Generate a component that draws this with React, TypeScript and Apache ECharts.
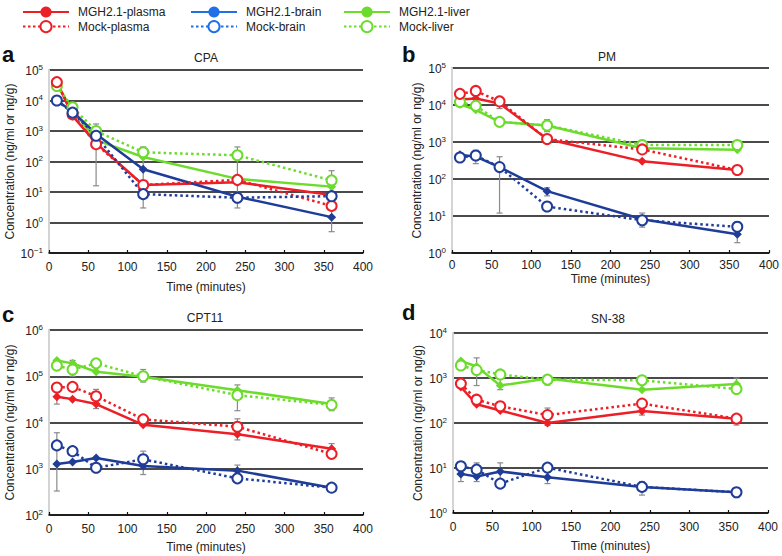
import React, { useEffect, useRef } from "react";
import * as echarts from "echarts";

const times = [10, 30, 60, 120, 240, 360];

// Panel a: CPA
const cpaPlasmaMGH = [42000, 3100, 400, 17, 21, 8];
const cpaPlasmaMock = [40000, 3500, 370, 17, 25, 3.5];
const cpaBrainMGH = [10000, 4300, 800, 56, 7, 1.5];
const cpaBrainMock = [10000, 4000, 700, 8.5, 6.5, 7.3];
const cpaLiverMGH = [32000, 4900, 500, 140, 27, 15];
const cpaLiverMock = [30000, 6000, 1000, 200, 160, 24];
const cpaErrors = [[30, 3000, 7000], [60, 16, 1700], [120, 3, 300], [240, 3, 300], [360, 0.5, 50]];

// Panel b: PM
const pmPlasmaMGH = [14000, 15000, 11000, 1200, 300, 175];
const pmPlasmaMock = [20000, 24000, 12500, 1200, 630, 175];
const pmBrainMGH = [450, 400, 210, 47, 8.2, 3.2];
const pmBrainMock = [380, 430, 210, 18, 7.7, 5.1];
const pmLiverMGH = [10500, 7400, 3500, 2800, 680, 620];
const pmLiverMock = [12000, 9500, 3500, 2800, 830, 830];
const pmErrors = [[60, 12, 400], [60, 8000, 17000], [120, 1900, 4000], [30, 260, 600], [120, 35, 58], [240, 5, 12], [240, 500, 1100], [360, 1.9, 7]];

// Panel c: CPT11
const cptPlasmaMGH = [36000, 32000, 25000, 8900, 5600, 2700];
const cptPlasmaMock = [57000, 59000, 37000, 11700, 8100, 2100];
const cptBrainMGH = [1260, 1400, 1700, 1150, 910, 390];
const cptBrainMock = [3200, 2400, 1050, 1600, 620, 390];
const cptLiverMGH = [220000, 190000, 125000, 98000, 50000, 25000];
const cptLiverMock = [170000, 140000, 190000, 100000, 39000, 24000];
const cptErrors = [[10, 330, 6000], [10, 25000, 45000], [30, 100000, 220000], [60, 20000, 52000], [120, 750, 2400], [120, 75000, 140000], [240, 18000, 65000], [240, 4200, 12000], [240, 700, 1200], [360, 18000, 34000], [360, 2200, 3500]];

// Panel d: SN-38
const snPlasmaMGH = [630, 260, 190, 100, 185, 125];
const snPlasmaMock = [750, 330, 235, 150, 270, 125];
const snBrainMGH = [7.4, 6.5, 8.4, 6.2, 3.8, 2.9];
const snBrainMock = [10.9, 9.2, 4.5, 10.2, 3.8, 2.9];
const snLiverMGH = [2400, 1800, 680, 970, 550, 740];
const snLiverMock = [1900, 1500, 1200, 920, 890, 570];
const snErrors = [[10, 5, 12], [30, 680, 2800], [30, 5, 13], [60, 4, 13], [60, 550, 1000], [120, 88, 215], [120, 4.5, 8], [120, 700, 1100], [240, 2.5, 5], [240, 150, 230], [360, 470, 1000], [360, 90, 150], [360, 2.2, 3.5]];

const xTicks = [0, 50, 100, 150, 200, 250, 300, 350, 400];
const legendNames = ["MGH2.1-plasma", "Mock-plasma", "MGH2.1-brain", "Mock-brain", "MGH2.1-liver", "Mock-liver"];

const FONT = "'Liberation Sans', Arial, Helvetica, sans-serif";
const RED = "#ec1f27";
const GREEN = "#6cdc2c";
const BLUE_LEG = "#1f6fe8";
const BLUE = "#1f3d98";

const panels = [
  { letter: "a", title: "CPA", grid: { left: 49, top: 70, width: 314, height: 183 }, min: 0.1, max: 1e5, decades: 6, yGap: 33, xGap: 28, lblMargin: 8, lx: 2, ly: 55, tx: 206, ty: 58,
    plasma: [cpaPlasmaMGH, cpaPlasmaMock], brain: [cpaBrainMGH, cpaBrainMock], liver: [cpaLiverMGH, cpaLiverMock], errors: cpaErrors },
  { letter: "b", title: "PM", grid: { left: 452, top: 68, width: 317, height: 185 }, min: 1, max: 1e5, decades: 5, yGap: 29, xGap: 20, lblMargin: 6, lx: 402, ly: 55, tx: 607, ty: 57,
    plasma: [pmPlasmaMGH, pmPlasmaMock], brain: [pmBrainMGH, pmBrainMock], liver: [pmLiverMGH, pmLiverMock], errors: pmErrors },
  { letter: "c", title: "CPT11", grid: { left: 49, top: 330, width: 314, height: 185 }, min: 100, max: 1e6, decades: 4, yGap: 33, xGap: 26, lblMargin: 8, lx: 2, ly: 315, tx: 205, ty: 318,
    plasma: [cptPlasmaMGH, cptPlasmaMock], brain: [cptBrainMGH, cptBrainMock], liver: [cptLiverMGH, cptLiverMock], errors: cptErrors },
  { letter: "d", title: "SN-38", grid: { left: 453, top: 333, width: 315, height: 180 }, min: 1, max: 1e4, decades: 4, yGap: 29, xGap: 27, lblMargin: 8, lx: 402, ly: 313, tx: 608, ty: 319,
    plasma: [snPlasmaMGH, snPlasmaMock], brain: [snBrainMGH, snBrainMock], liver: [snLiverMGH, snLiverMock], errors: snErrors },
];

function supLabel(v: number) {
  const e = Math.round(Math.log10(v));
  const s = e < 0 ? "\u2212" + Math.abs(e) : String(e);
  return "{b|10}{s|" + s + "}";
}

function lineSeries(name: string, values: number[], color: string, mock: boolean, idx: number) {
  return {
    type: "line",
    name,
    xAxisIndex: idx,
    yAxisIndex: idx,
    data: times.map((t, i) => [t, values[i]]),
    symbol: mock ? "emptyCircle" : "diamond",
    symbolSize: mock ? 10 : 9,
    showSymbol: true,
    lineStyle: { color, width: 2.5, type: mock ? [2.5, 3] : "solid" },
    itemStyle: { color, borderWidth: mock ? 2.4 : 0, borderColor: color },
    z: mock ? 4 : 3,
  };
}

export default function App() {
  const ref = useRef<HTMLDivElement>(null);
  useEffect(() => {
    if (!ref.current) return;
    const chart = echarts.init(ref.current, undefined, { renderer: "svg" });

    const grids: any[] = [];
    const xAxes: any[] = [];
    const yAxes: any[] = [];
    const series: any[] = [];
    const graphics: any[] = [];

    // legend-only series (first with each name -> legend icon style)
    const legendColors = [RED, RED, BLUE_LEG, BLUE_LEG, GREEN, GREEN];
    legendNames.forEach((n, i) => {
      const mock = i % 2 === 1;
      series.push({
        type: "line",
        name: n,
        xAxisIndex: 0,
        yAxisIndex: 0,
        data: [],
        symbol: mock ? "emptyCircle" : "circle",
        symbolSize: 10,
        lineStyle: { color: legendColors[i], width: 2.5, type: mock ? [2.5, 2.5] : "solid" },
        itemStyle: { color: legendColors[i], borderWidth: mock ? 2.5 : 0, borderColor: legendColors[i] },
      });
    });

    panels.forEach((p, idx) => {
      grids.push({ ...p.grid, containLabel: false });
      xAxes.push({
        gridIndex: idx,
        type: "value",
        min: 0,
        max: 400,
        interval: 50,
        name: "Time (minutes)",
        nameLocation: "middle",
        nameGap: p.xGap,
        nameTextStyle: { fontFamily: FONT, fontSize: 12, color: "#222" },
        axisLine: { show: true, lineStyle: { color: "#111", width: 1.5 } },
        axisTick: { show: true, inside: true, length: 3, lineStyle: { color: "#111", width: 1.2 } },
        axisLabel: { fontFamily: FONT, fontSize: 12, color: "#222", margin: p.lblMargin,
          formatter: (v: number) => (xTicks.indexOf(v) >= 0 ? String(v) : "") },
        splitLine: { show: false },
      });
      yAxes.push({
        gridIndex: idx,
        type: "log",
        logBase: 10,
        min: p.min,
        max: p.max,
        splitNumber: p.decades,
        name: "Concentration (ng/ml or ng/g)",
        nameLocation: "middle",
        nameGap: p.yGap,
        nameTextStyle: { fontFamily: FONT, fontSize: 12, color: "#222" },
        axisLine: { show: true, lineStyle: { color: "#d4d4d4", width: 2 } },
        axisTick: { show: false },
        splitLine: { show: true, lineStyle: { color: "#4a4a4a", width: 2 } },
        axisLabel: {
          margin: 6,
          formatter: supLabel,
          rich: {
            b: { fontFamily: FONT, fontSize: 12, color: "#222", verticalAlign: "bottom", lineHeight: 14 },
            s: { fontFamily: FONT, fontSize: 8, color: "#222", verticalAlign: "top", lineHeight: 14, padding: [0, 0, 8, 0] },
          },
        },
      });

      series.push({
        type: "custom",
        name: "err-" + p.letter,
        xAxisIndex: idx,
        yAxisIndex: idx,
        data: p.errors,
        encode: { x: 0, y: [1, 2] },
        z: 1,
        silent: true,
        renderItem: (params: any, api: any) => {
          const t = api.value(0);
          const lo = api.coord([t, api.value(1)]);
          const hi = api.coord([t, api.value(2)]);
          const st = { stroke: "#8a8a8a", lineWidth: 1.2 };
          return {
            type: "group",
            children: [
              { type: "line", shape: { x1: lo[0], y1: lo[1], x2: hi[0], y2: hi[1] }, style: st },
              { type: "line", shape: { x1: lo[0] - 3, y1: lo[1], x2: lo[0] + 3, y2: lo[1] }, style: st },
              { type: "line", shape: { x1: hi[0] - 3, y1: hi[1], x2: hi[0] + 3, y2: hi[1] }, style: st },
            ],
          };
        },
      });

      series.push(lineSeries("MGH2.1-liver", p.liver[0], GREEN, false, idx));
      series.push(lineSeries("Mock-liver", p.liver[1], GREEN, true, idx));
      series.push(lineSeries("MGH2.1-plasma", p.plasma[0], RED, false, idx));
      series.push(lineSeries("Mock-plasma", p.plasma[1], RED, true, idx));
      series.push(lineSeries("MGH2.1-brain", p.brain[0], BLUE, false, idx));
      series.push(lineSeries("Mock-brain", p.brain[1], BLUE, true, idx));

      graphics.push({
        type: "text", left: p.lx, top: p.ly - 12,
        style: { text: p.letter, font: "bold 22px " + FONT, fill: "#111" },
      });
      graphics.push({
        type: "text", x: p.tx, y: p.ty,
        style: { text: p.title, font: "12px " + FONT, fill: "#222", align: "center", verticalAlign: "middle", textAlign: "center", textVerticalAlign: "middle" },
      });
    });

    const legendBase = {
      orient: "vertical",
      top: 1,
      itemGap: 2,
      itemWidth: 46,
      itemHeight: 14,
      selectedMode: false,
      textStyle: { fontFamily: FONT, fontSize: 12, color: "#222", padding: [0, 0, 0, 4] },
    };

    chart.setOption({
      animation: false,
      backgroundColor: "#fff",
      grid: grids,
      xAxis: xAxes,
      yAxis: yAxes,
      legend: [
        { ...legendBase, left: 17, data: ["MGH2.1-plasma", "Mock-plasma"] },
        { ...legendBase, left: 185, data: ["MGH2.1-brain", "Mock-brain"] },
        { ...legendBase, left: 338, data: ["MGH2.1-liver", "Mock-liver"] },
      ],
      series,
      graphic: graphics,
    });
    return () => chart.dispose();
  }, []);
  return <div ref={ref} style={{ position: "fixed", left: 0, top: 0, width: 782, height: 556, background: "#fff" }} />;
}
